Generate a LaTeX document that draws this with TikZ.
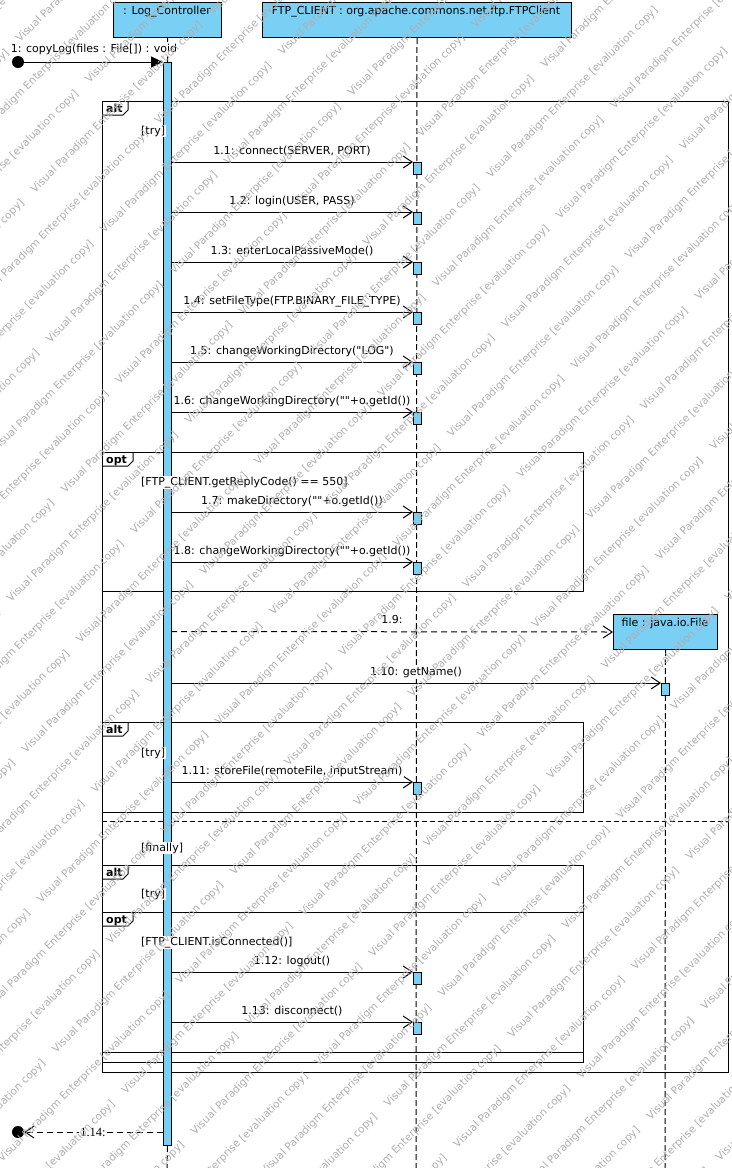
\documentclass[tikz,border=0pt]{standalone}
\usepackage{fontspec}
\setmainfont{DejaVu Sans}[Ligatures=TeXOff]
\newfontfamily\retfont{Liberation Serif}
\usetikzlibrary{arrows.meta}
\definecolor{vpblue}{RGB}{122,207,245}
\definecolor{wmgray}{RGB}{175,175,175}
\begin{document}
\begin{tikzpicture}[x=1bp,y=-1bp,
  every node/.style={font=\fontsize{11bp}{13bp}\selectfont, inner sep=0pt},
  headbox/.style={draw, fill=vpblue, line width=1bp, anchor=north west},
  headtext/.style={anchor=base},
  life/.style={line width=1bp, dash pattern=on 6bp off 3bp},
  actbox/.style={draw, fill=vpblue, line width=1bp, anchor=north west, minimum width=8bp, minimum height=12bp},
  msg/.style={-{Straight Barb[length=9bp,width=12bp,line width=1bp]}, line width=1bp},
  retmsg/.style={msg, dash pattern=on 6bp off 4bp},
  lbl/.style={fill=white, inner sep=1.5bp, anchor=base},
  guard/.style={fill=white, inner sep=1bp, anchor=base west},
  frm/.style={draw, line width=1bp},
  tagtext/.style={font=\bfseries\fontsize{11bp}{13bp}\selectfont, anchor=base west},
  wmark/.style={text=wmgray, font=\fontsize{10.5bp}{12bp}\selectfont, rotate=45, anchor=base west},
]
\useasboundingbox (0,0) rectangle (732,1168);
\fill[white] (0,0) rectangle (732,1168);

% ---- frames
\draw[frm] (102,101) rectangle (728,1072);
\draw[frm] (128,101) -- (128,110) -- (123,115) -- (102,115);
\node[tagtext] (tagA1) at (106,112) {alt};
\draw[frm, dash pattern=on 5bp off 3bp] (102,821) -- (728,821);

\draw[frm] (102,452) rectangle (583,591);
\draw[frm] (133,452) -- (133,461) -- (128,466) -- (102,466);
\node[tagtext] (tagO1) at (106,463) {opt};

\draw[frm] (102,722) rectangle (583,812);
\draw[frm] (128,722) -- (128,731) -- (123,736) -- (102,736);
\node[tagtext] (tagA2) at (106,733) {alt};

\draw[frm] (102,865) rectangle (583,1062);
\draw[frm] (128,865) -- (128,874) -- (123,879) -- (102,879);
\node[tagtext] (tagA3) at (106,876) {alt};

\draw[frm] (102,912) rectangle (583,1052);
\draw[frm] (133,912) -- (133,921) -- (128,926) -- (102,926);
\node[tagtext] (tagO2) at (106,923) {opt};

% ---- heads
\node[headbox, minimum width=108bp, minimum height=35bp] (lc) at (113,2) {};
\node[headtext] (lcT) at (167,14) {: Log\_Controller};
\node[headbox, minimum width=309bp, minimum height=35bp] (ftp) at (262,2) {};
\node[headtext] (ftpT) at (416,14) {FTP\_CLIENT : org.apache.commons.net.ftp.FTPClient};
\node[headbox, minimum width=104bp, minimum height=35bp] (fh) at (613,614) {};
\node[headtext] (fhT) at (665,626) {file : java.io.File};

% ---- lifelines
\coordinate (lcEnd) at (167,1168);
\coordinate (ftpEnd) at (416,1168);
\coordinate (fhEnd) at (665,1168);
\draw[life] (ftp.south) -- (ftpEnd);
\draw[life] (fh.south) -- (fhEnd);
\node[actbox, minimum height=1083bp] (lcA) at (163,62) {};
\draw[life] (lc.south) -- (lcA.north);
\draw[life] (lcA.south) -- (lcEnd);

% ---- found message
\node[circle, fill=black, minimum size=12bp] (start) at (18,62) {};
\draw[line width=1bp, -{Triangle[length=12bp,width=11bp]}] (start) -- (lcA.north west);
\node[lbl] (l1) at (94,52) {1: copyLog(files : File[]) : void};

% ---- guards
\node[guard] (g1) at (140,134) {[try]};
\node[guard] (g2) at (140,485) {[FTP\_CLIENT.getReplyCode() == 550]};
\node[guard] (g3) at (140,756) {[try]};
\node[guard] (g4) at (140,851) {[finally]};
\node[guard] (g5) at (140,897) {[try]};
\node[guard] (g6) at (140,945) {[FTP\_CLIENT.isConnected()]};

% ---- synchronous messages to FTP_CLIENT
\foreach \n/\yy/\txt in {
  1/162/{1.1: connect(SERVER, PORT)},
  2/212/{1.2: login(USER, PASS)},
  3/262/{1.3: enterLocalPassiveMode()},
  4/312/{1.4: setFileType(FTP.BINARY\_FILE\_TYPE)},
  5/362/{1.5: changeWorkingDirectory("LOG")},
  6/412/{1.6: changeWorkingDirectory(""+o.getId())},
  7/512/{1.7: makeDirectory(""+o.getId())},
  8/562/{1.8: changeWorkingDirectory(""+o.getId())},
  11/782/{1.11: storeFile(remoteFile, inputStream)},
  12/972/{1.12: logout()},
  13/1022/{1.13: disconnect()}} {
  \coordinate (s\n) at (171,\yy);
  \node[actbox] (b\n) at (413,\yy) {};
  \draw[msg] (s\n) -- (b\n.north west);
  \node[lbl] (t\n) at (292,\yy-8) {\txt};
}

% ---- create file
\coordinate (s9) at (171,631.5);
\draw[retmsg] (s9) -- (fh.west);
\node[lbl] (t9) at (392,623.5) {1.9:};

% ---- getName
\coordinate (s10) at (171,683);
\node[actbox] (b10) at (661,683) {};
\draw[msg] (s10) -- (b10.north west);
\node[lbl] (t10) at (416,675) {1.10: getName()};

% ---- return
\node[circle, fill=black, minimum size=12bp] (fin) at (18,1132) {};
\coordinate (s14) at (163,1132);
\draw[retmsg] (s14) -- (fin);
\node[lbl, font=\retfont\fontsize{12.5bp}{14bp}\selectfont] (t14) at (93,1136) {1.14:};

% ---- watermark
\begin{scope}
\clip (0,0) rectangle (732,1168);
\foreach \m in {-15,...,22} {
  \pgfmathsetmacro{\cc}{1165-55.1*\m}
  \pgfmathsetmacro{\xo}{mod(2+54.3*\m+178*30,178)-178}
  \foreach \k in {0,...,5} {
    \pgfmathsetmacro{\xx}{\xo+\k*178}
    \pgfmathsetmacro{\yy}{\cc-\xx}
    \node[wmark] (wm\m-\k) at (\xx,\yy) {Visual Paradigm Enterprise [evaluation copy]};
  }
}
\end{scope}
\end{tikzpicture}
\end{document}
